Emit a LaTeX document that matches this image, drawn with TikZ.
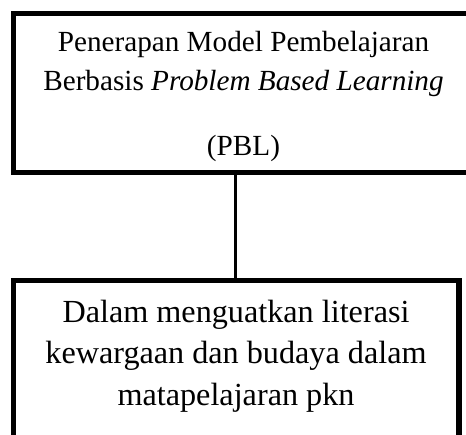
\documentclass[tikz,border=0pt]{standalone}
\usepackage{fontspec}
\setmainfont{Liberation Serif}
\begin{document}
\begin{tikzpicture}[x=1pt,y=1pt,
  framebox/.style={draw=black, rectangle, inner sep=0pt},
  caption/.style={align=center, inner sep=0pt},
  link/.style={draw=black, line width=3pt}]
\useasboundingbox (0,0) rectangle (466,434);
% upper box (its right side runs past the page edge)
\node[framebox, line width=5pt, minimum width=459.5pt, minimum height=159.5pt]
  (top) at (243.25,340.75) {};
\node[caption, font=\fontsize{29.2}{39}\selectfont, anchor=north]
  (topText) at (243.5,403.1) {Penerapan Model Pembelajaran\\
  Berbasis \textit{Problem Based Learning}\\[26pt] (PBL)};
% lower box (its bottom side runs past the page edge)
\node[framebox, line width=5.5pt, minimum width=445.3pt, minimum height=157.5pt]
  (bottom) at (236.35,74.75) {};
\node[caption, font=\fontsize{32.2}{41.5}\selectfont, anchor=north]
  (bottomText) at (236,134.2) {Dalam menguatkan literasi\\
  kewargaan dan budaya dalam\\ matapelajaran pkn};
% connector between the two boxes
\coordinate (linkx) at (235,0);
\draw[link] (top.south -| linkx) -- (bottom.north -| linkx);
\end{tikzpicture}
\end{document}
